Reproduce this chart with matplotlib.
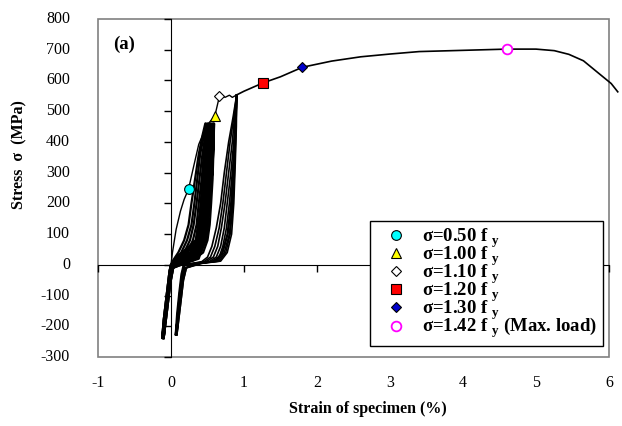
import numpy as np
import matplotlib.pyplot as plt
from matplotlib.patches import Rectangle

plt.rcParams['font.family'] = ['Liberation Serif', 'DejaVu Serif']
plt.rcParams['mathtext.fontset'] = 'custom'
plt.rcParams['mathtext.rm'] = 'Liberation Serif'
plt.rcParams['mathtext.bf'] = 'Liberation Serif:bold'

# monotonic envelope (strain %, stress MPa)
init_strain = [0.00, 0.02, 0.07, 0.13, 0.18, 0.24, 0.31, 0.38, 0.45, 0.52, 0.60, 0.66, 0.70,
               0.74, 0.80, 0.84, 0.90]
init_stress = [0, 40, 115, 175, 213, 246, 320, 392, 431, 462, 484, 545, 552, 545, 552, 545, 553]

env_strain = [0.90, 1.00, 1.26, 1.50, 1.80, 2.20, 2.60, 3.00, 3.40, 4.00, 4.60, 5.00, 5.25,
              5.45, 5.65, 5.85, 6.03, 6.12]
env_stress = [553, 565, 592, 612, 643, 663, 677, 686, 694, 698, 702, 702, 697, 685, 664, 625,
              590, 563]

# cyclic loops, group A (before yield)
loopA_stress = [-238, -180, -120, -60, -20, 0, 15, 40, 80, 130, 200, 280, 360, 420, 460,
                400, 300, 180, 80, 20, -10, -60, -140, -238]
loopA_strain = [
    [-0.11, -0.09, -0.06, -0.03, -0.01, 0.00, 0.03, 0.10, 0.18, 0.24, 0.28, 0.33, 0.38, 0.43, 0.47,
     0.46, 0.44, 0.40, 0.34, 0.06, 0.02, -0.02, -0.06, -0.11],
    [-0.12, -0.10, -0.07, -0.04, -0.02, 0.00, 0.05, 0.14, 0.22, 0.28, 0.32, 0.36, 0.40, 0.45, 0.48,
     0.47, 0.45, 0.41, 0.35, 0.09, 0.01, -0.03, -0.07, -0.12],
    [-0.10, -0.08, -0.05, -0.02, 0.00, 0.01, 0.08, 0.18, 0.26, 0.31, 0.35, 0.39, 0.43, 0.47, 0.50,
     0.49, 0.47, 0.43, 0.37, 0.12, 0.03, -0.01, -0.05, -0.10],
    [-0.11, -0.09, -0.06, -0.03, -0.01, 0.00, 0.11, 0.22, 0.30, 0.35, 0.38, 0.42, 0.45, 0.48, 0.51,
     0.50, 0.48, 0.44, 0.38, 0.15, 0.02, -0.02, -0.06, -0.11],
    [-0.12, -0.10, -0.07, -0.04, -0.02, 0.00, 0.14, 0.27, 0.34, 0.38, 0.41, 0.45, 0.48, 0.50, 0.53,
     0.52, 0.50, 0.46, 0.40, 0.19, 0.01, -0.03, -0.07, -0.12],
    [-0.10, -0.08, -0.05, -0.02, 0.00, 0.01, 0.17, 0.31, 0.38, 0.42, 0.45, 0.48, 0.51, 0.52, 0.54,
     0.53, 0.51, 0.47, 0.41, 0.23, 0.03, -0.01, -0.05, -0.10],
    [-0.11, -0.09, -0.06, -0.03, -0.01, 0.00, 0.20, 0.35, 0.42, 0.45, 0.48, 0.51, 0.53, 0.54, 0.55,
     0.54, 0.52, 0.48, 0.42, 0.27, 0.02, -0.02, -0.06, -0.11],
    [-0.12, -0.10, -0.07, -0.04, -0.02, 0.00, 0.23, 0.38, 0.45, 0.48, 0.51, 0.53, 0.55, 0.56, 0.57,
     0.56, 0.54, 0.50, 0.44, 0.31, 0.01, -0.03, -0.07, -0.12],
    [-0.10, -0.08, -0.05, -0.02, 0.00, 0.01, 0.27, 0.41, 0.48, 0.51, 0.53, 0.55, 0.565, 0.575, 0.58,
     0.575, 0.555, 0.51, 0.45, 0.35, 0.03, -0.01, -0.05, -0.10],
    [-0.11, -0.09, -0.06, -0.03, -0.01, 0.00, 0.30, 0.44, 0.50, 0.53, 0.55, 0.57, 0.58, 0.585, 0.59,
     0.585, 0.565, 0.52, 0.46, 0.38, 0.02, -0.02, -0.06, -0.11],
]

# cyclic loops, group B (after yield plateau)
loopB_stress = [553, 450, 330, 200, 100, 40, 12, 5, -10, -50, -130, -229,
                -160, -90, -30, 0, 5, 10, 25, 60, 120, 200, 300, 400, 480, 553]
loopB_strain = [
    [0.90, 0.885, 0.86, 0.82, 0.77, 0.70, 0.60, 0.35, 0.20, 0.16, 0.12, 0.07,
     0.09, 0.12, 0.15, 0.18, 0.30, 0.42, 0.50, 0.56, 0.62, 0.68, 0.73, 0.79, 0.85, 0.90],
    [0.90, 0.885, 0.865, 0.83, 0.78, 0.71, 0.62, 0.37, 0.21, 0.17, 0.13, 0.08,
     0.10, 0.13, 0.16, 0.19, 0.32, 0.45, 0.54, 0.60, 0.66, 0.71, 0.76, 0.81, 0.86, 0.90],
    [0.90, 0.89, 0.87, 0.84, 0.80, 0.73, 0.64, 0.39, 0.19, 0.15, 0.11, 0.06,
     0.08, 0.11, 0.14, 0.17, 0.34, 0.48, 0.58, 0.64, 0.69, 0.74, 0.79, 0.84, 0.87, 0.90],
    [0.90, 0.89, 0.875, 0.85, 0.81, 0.75, 0.66, 0.41, 0.20, 0.16, 0.12, 0.07,
     0.09, 0.12, 0.15, 0.18, 0.36, 0.52, 0.62, 0.68, 0.73, 0.77, 0.82, 0.86, 0.88, 0.90],
    [0.90, 0.895, 0.88, 0.86, 0.83, 0.77, 0.68, 0.43, 0.21, 0.17, 0.13, 0.08,
     0.10, 0.13, 0.16, 0.19, 0.38, 0.55, 0.66, 0.71, 0.76, 0.80, 0.84, 0.87, 0.89, 0.90],
]

# marked points
mark_labels = ['σ=0.50 f $_\\mathbf{y}$', 'σ=1.00 f $_\\mathbf{y}$',
               'σ=1.10 f $_\\mathbf{y}$', 'σ=1.20 f $_\\mathbf{y}$',
               'σ=1.30 f $_\\mathbf{y}$', 'σ=1.42 f $_\\mathbf{y}$ (Max. load)']
mark_strain = [0.24, 0.60, 0.66, 1.26, 1.80, 4.60]
mark_stress = [246, 484, 548, 592, 643, 702]
mark_style = [('o', '#00FFFF', 'black', 7), ('^', '#FFFF00', 'black', 7),
              ('D', 'white', 'black', 5.5), ('s', '#FF0000', 'black', 7.5),
              ('D', '#0000CC', 'black', 5.5), ('o', 'white', '#FF00FF', 7)]

xticks = [-1, 0, 1, 2, 3, 4, 5, 6]
yticks = [-300, -200, -100, 0, 100, 200, 300, 400, 500, 600, 700, 800]

fig = plt.figure(figsize=(6.22, 4.26), dpi=100)
ax = fig.add_axes([98 / 622, 69 / 426, 511 / 622, 338 / 426])
ax.set_xlim(-1, 6)
ax.set_ylim(-300, 800)

for xs in loopA_strain:
    ax.plot(xs, loopA_stress, color='black', lw=1.6)
for xs in loopB_strain:
    ax.plot(xs, loopB_stress, color='black', lw=1.2)
ax.plot(init_strain, init_stress, color='black', lw=1.0)
ax.plot(env_strain, env_stress, color='black', lw=1.2, clip_on=False)

handles = []
for x, y, lab, (m, fc, ec, ms) in zip(mark_strain, mark_stress, mark_labels, mark_style):
    h, = ax.plot([x], [y], ls='none', marker=m, mfc=fc, mec=ec, ms=ms,
                 mew=1.3 if ec == '#FF00FF' else 0.8, label=lab, zorder=5)
    handles.append(h)

# axes through zero, plot area frame
for s in ['top', 'right']:
    ax.spines[s].set_visible(False)
ax.spines['left'].set_position(('data', 0))
ax.spines['bottom'].set_position(('data', 0))
ax.add_patch(Rectangle((0, 0), 1, 1, transform=ax.transAxes, fill=False,
                       edgecolor='#808080', lw=1.2, clip_on=False, zorder=0))
ax.set_xticks(xticks)
ax.set_yticks(yticks)
ax.tick_params(direction='out', length=5, width=1, labelleft=False, labelbottom=False)

for v in yticks:
    ax.text(-0.055, v, str(v), transform=ax.get_yaxis_transform(), ha='right', va='center',
            fontsize=11.5)
for v in xticks:
    ax.text(v, -0.078, str(v), transform=ax.get_xaxis_transform(), ha='center', va='center',
            fontsize=11.5)

ax.text(0.528, -0.155, 'Strain of specimen (%)', transform=ax.transAxes, ha='center',
        va='center', fontsize=11.5, fontweight='bold')
ax.text(-0.153, 0.598, 'Stress  σ  (MPa)', transform=ax.transAxes, ha='center',
        va='center', rotation=90, fontsize=11.5, fontweight='bold')
ax.text(-0.64, 716, '(a)', ha='center', va='center', fontsize=13.5, fontweight='bold')

leg = ax.legend(handles=handles, loc='lower right', bbox_to_anchor=(0.988, 0.0325),
                borderaxespad=0, prop={'weight': 'bold', 'size': 13.5}, fancybox=False,
                edgecolor='black', framealpha=1, labelspacing=-0.3, handlelength=2.2,
                handletextpad=0.3, borderpad=0.3)
leg.get_frame().set_linewidth(1.0)

fig.savefig('out.png', dpi=100)
